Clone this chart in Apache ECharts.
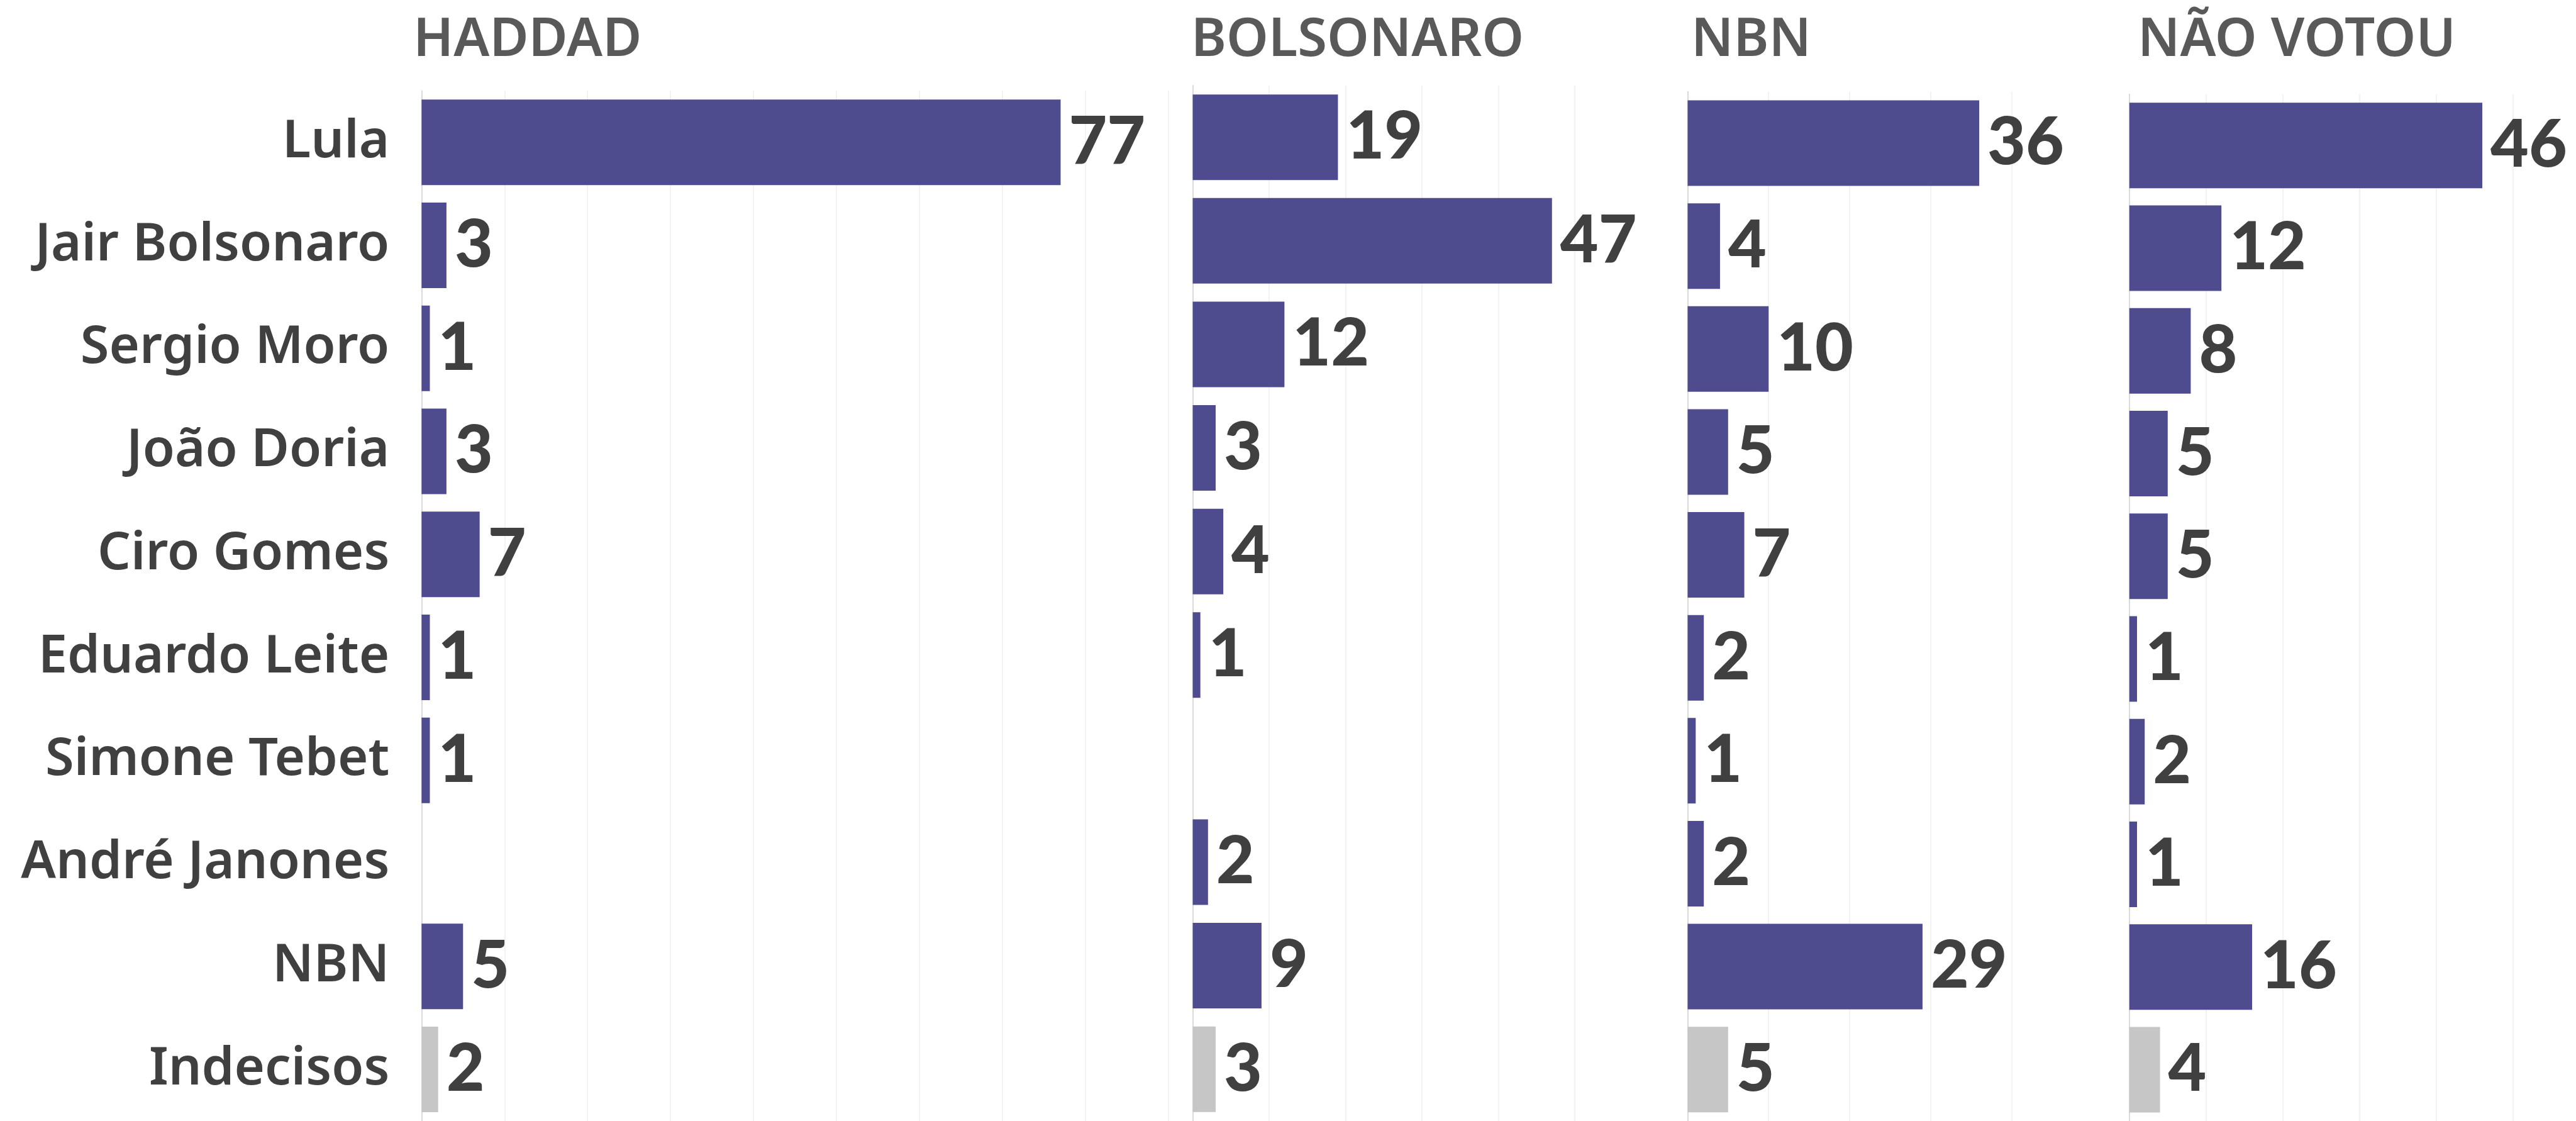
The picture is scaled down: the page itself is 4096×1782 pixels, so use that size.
<!DOCTYPE html>
<html>
<head>
<meta charset="utf-8">
<style>
  html, body { margin: 0; padding: 0; background: #ffffff; }
  #chart { width: 4096px; height: 1782px; }
</style>
<script src="https://cdn.jsdelivr.net/npm/echarts@6/dist/echarts.min.js"></script>
</head>
<body>
<div id="chart"></div>
<script>
// Second-round vote intention, split by first-round vote in 2018
const candidates = ['Lula', 'Jair Bolsonaro', 'Sergio Moro', 'João Doria', 'Ciro Gomes',
                    'Eduardo Leite', 'Simone Tebet', 'André Janones', 'NBN', 'Indecisos'];
const panelTitles = ['HADDAD', 'BOLSONARO', 'NBN', 'NÃO VOTOU'];
const haddad    = [77, 3, 1, 3, 7, 1, 1, null, 5, 2];
const bolsonaro = [19, 47, 12, 3, 4, 1, null, 2, 9, 3];
const nbn       = [36, 4, 10, 5, 7, 2, 1, 2, 29, 5];
const naoVotou  = [46, 12, 8, 5, 5, 1, 2, 1, 16, 4];
const axisMax   = [90, 50, 40, 50];

const panelValues = [haddad, bolsonaro, nbn, naoVotou];

// panel geometry (px)
const panels = [
  { left: 670.3,  width: 1187.7, top: 144.4, titleX: 657 },
  { left: 1896.5, width: 607.7,  top: 135.9, titleX: 1894 },
  { left: 2683.4, width: 515.2,  top: 145.8, titleX: 2689 },
  { left: 3385.8, width: 610.0,  top: 149.7, titleX: 3399 }
];
const gridBottomY = 1791.3;

const PURPLE = '#4e4b8e';
const GREY = '#c6c6c6';
const TEXT = '#404040';

const chart = echarts.init(document.getElementById('chart'), null, { renderer: 'canvas' });

const grids = [], xAxes = [], yAxes = [], series = [], graphics = [];

panels.forEach((p, i) => {
  grids.push({ left: p.left, top: p.top, width: p.width, height: gridBottomY - p.top, containLabel: false });
  xAxes.push({
    gridIndex: i, type: 'value', min: 0, max: axisMax[i], interval: 10,
    axisLabel: { show: false }, axisLine: { show: false }, axisTick: { show: false },
    splitLine: { show: true, lineStyle: { color: '#eeeeee', width: 1.5 } }
  });
  yAxes.push({
    gridIndex: i, type: 'category', data: candidates, inverse: true,
    axisTick: { show: false },
    axisLine: { show: true, lineStyle: { color: '#dadada', width: 2 } },
    axisLabel: {
      show: i === 0, margin: 51, color: TEXT,
      fontFamily: 'Noto Sans', fontWeight: 600, fontSize: 83,
      padding: [0, 0, 8, 0]
    }
  });
  series.push({
    type: 'bar', xAxisIndex: i, yAxisIndex: i,
    data: panelValues[i],
    barWidth: 136,
    itemStyle: {
      color: (params) => params.name === 'Indecisos' ? GREY : PURPLE
    },
    label: {
      show: true, position: 'right', distance: 13, color: TEXT,
      fontFamily: 'Lato', fontWeight: 900, fontSize: 105,
      formatter: (params) => params.value == null ? '' : String(params.value)
    },
    silent: true,
    animation: false
  });
  graphics.push({
    type: 'text', x: p.titleX, y: 65,
    style: {
      text: panelTitles[i], fill: '#595959',
      font: '600 85px "Noto Sans"', verticalAlign: 'middle', align: 'left'
    }
  });
});

chart.setOption({
  backgroundColor: '#ffffff',
  animation: false,
  grid: grids,
  xAxis: xAxes,
  yAxis: yAxes,
  series: series,
  graphic: graphics
});
</script>
</body>
</html>
